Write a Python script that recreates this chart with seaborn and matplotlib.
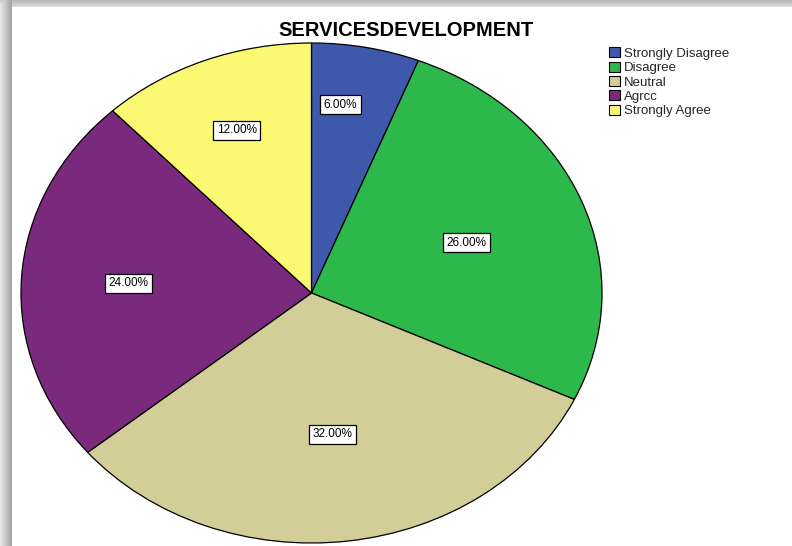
import numpy as np
import matplotlib
matplotlib.use("Agg")
import matplotlib.pyplot as plt
import seaborn as sns
from matplotlib.patches import Patch

# Survey responses for the services development item
categories = ["Strongly Disagree", "Disagree", "Neutral", "Agree", "Strongly Agree"]
legend_labels = ["Strongly Disagree", "Disagree", "Neutral", "Agrcc", "Strongly Agree"]
percentages = [6.0, 26.0, 32.0, 24.0, 12.0]
title = "SERVICESDEVELOPMENT"

colors = ["#3e58ac", "#2db84b", "#d3ce97", "#7a2a7c", "#fbf873"]
# label placement: distance from centre and angular nudge (degrees) per slice
label_radius = [0.76, 0.57, 0.57, 0.63, 0.70]
label_turn = [-3.3, 1.0, 0.0, 0.0, 0.0]

sns.set_theme(style="white")
plt.rcParams["font.family"] = ["Liberation Sans", "DejaVu Sans"]

W, H = 792, 546
fig = plt.figure(figsize=(W / 100, H / 100), dpi=100)
fig.patch.set_facecolor("white")

# Shadowed frame around the chart area
bg = fig.add_axes([0, 0, 1, 1], zorder=-5)
img = np.ones((H, W))
for x in range(12):
    img[:, x] = 0.90 - 0.26 * (x / 11)
for y in range(7):
    row = 0.72 + 0.13 * (y / 6)
    img[y, :12] = np.minimum(img[y, :12], row + 0.08)
    img[y, 12:] = row
bg.imshow(img, cmap="gray", vmin=0, vmax=1, extent=(0, W, H, 0), aspect="auto",
          interpolation="bilinear")
bg.set_xlim(0, W)
bg.set_ylim(H, 0)
bg.axis("off")

# Pie, stretched to an ellipse by the axes box
ax = fig.add_axes([21 / W, 3 / H, 581 / W, 500 / H])
wedges, _ = ax.pie(
    percentages,
    colors=colors,
    startangle=90,
    counterclock=False,
    radius=1.0,
    wedgeprops=dict(edgecolor="black", linewidth=0.9),
)
ax.set_aspect("auto")
ax.set_xlim(-1, 1)
ax.set_ylim(-1, 1)
ax.axis("off")

# Percentage labels in boxed text
total = sum(percentages)
cum = 0.0
for pct, r, turn in zip(percentages, label_radius, label_turn):
    mid = np.deg2rad((cum + pct / 2) / total * 360.0 + turn)
    cum += pct
    ax.text(r * np.sin(mid), r * np.cos(mid), f"{pct:.2f}%",
            ha="center", va="center", fontsize=8.5, color="black",
            bbox=dict(boxstyle="square,pad=0.3", fc="white", ec="black", lw=0.9))

fig.text(406 / W, 1 - 30 / H, title, ha="center", va="center",
         fontsize=14.5, fontweight="bold", color="black")

handles = [Patch(facecolor=c, edgecolor="black", linewidth=0.8) for c in colors]
fig.legend(handles, legend_labels, loc="upper left",
           bbox_to_anchor=(600 / W, 1 - 38 / H), frameon=False,
           fontsize=9.5, handlelength=0.8, handleheight=0.8,
           handletextpad=0.3, labelspacing=0.13, borderpad=0.2)

fig.savefig("out.png", dpi=100)
